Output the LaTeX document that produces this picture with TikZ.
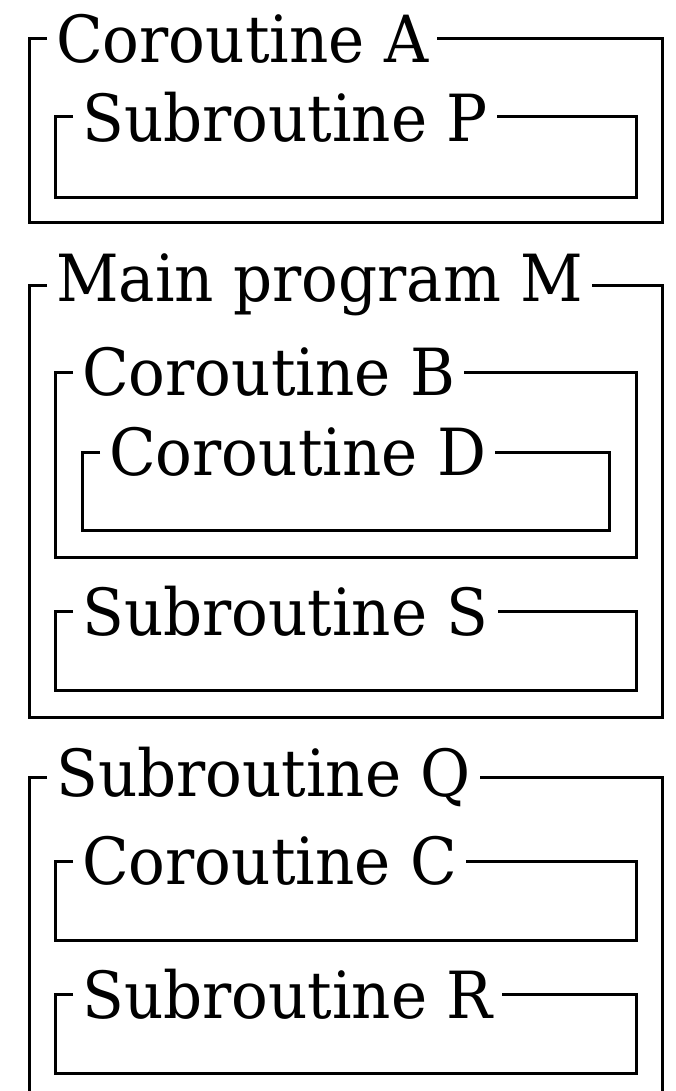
\documentclass[tikz,border=0pt]{standalone}
\usepackage{fontspec}
\setmainfont[FakeStretch=0.94]{DejaVu Serif}
\begin{document}
\begin{tikzpicture}[x=1pt,y=1pt,
  frame/.style={draw, line width=3pt},
  lbl/.style={anchor=west, inner xsep=9pt, inner ysep=0pt, font=\fontsize{65}{70}\selectfont}]
\useasboundingbox (0,0) rectangle (676,-1091);
% Coroutine A
\node[lbl] (labA) at (47,-39) {Coroutine A};
\draw[frame] (labA.west) -- (29,-39) -- (29,-223) -- (662,-223) -- (662,-39) -- (labA.east);
% Subroutine P
\node[lbl] (labP) at (73,-117) {Subroutine P};
\draw[frame] (labP.west) -- (55,-117) -- (55,-198) -- (636,-198) -- (636,-117) -- (labP.east);
% Main program M
\node[lbl] (labM) at (47,-285) {Main program M};
\draw[frame] (labM.west) -- (29,-285) -- (29,-717) -- (662,-717) -- (662,-285) -- (labM.east);
% Coroutine B
\node[lbl] (labB) at (73,-372) {Coroutine B};
\draw[frame] (labB.west) -- (55,-372) -- (55,-557) -- (636,-557) -- (636,-372) -- (labB.east);
% Coroutine D
\node[lbl] (labD) at (100,-452) {Coroutine D};
\draw[frame] (labD.west) -- (82,-452) -- (82,-530) -- (609,-530) -- (609,-452) -- (labD.east);
% Subroutine S
\node[lbl] (labS) at (73,-611) {Subroutine S};
\draw[frame] (labS.west) -- (55,-611) -- (55,-690) -- (636,-690) -- (636,-611) -- (labS.east);
% Subroutine Q (cut off at the bottom)
\node[lbl] (labQ) at (47,-777) {Subroutine Q};
\coordinate (qbl) at (29,-1100);
\coordinate (qbr) at (662,-1100);
\draw[frame] (labQ.west) -- (29,-777) -- (qbl);
\draw[frame] (labQ.east) -- (662,-777) -- (qbr);
% Coroutine C
\node[lbl] (labC) at (73,-861) {Coroutine C};
\draw[frame] (labC.west) -- (55,-861) -- (55,-940) -- (636,-940) -- (636,-861) -- (labC.east);
% Subroutine R
\node[lbl] (labR) at (73,-994) {Subroutine R};
\draw[frame] (labR.west) -- (55,-994) -- (55,-1073) -- (636,-1073) -- (636,-994) -- (labR.east);
\end{tikzpicture}
\end{document}
